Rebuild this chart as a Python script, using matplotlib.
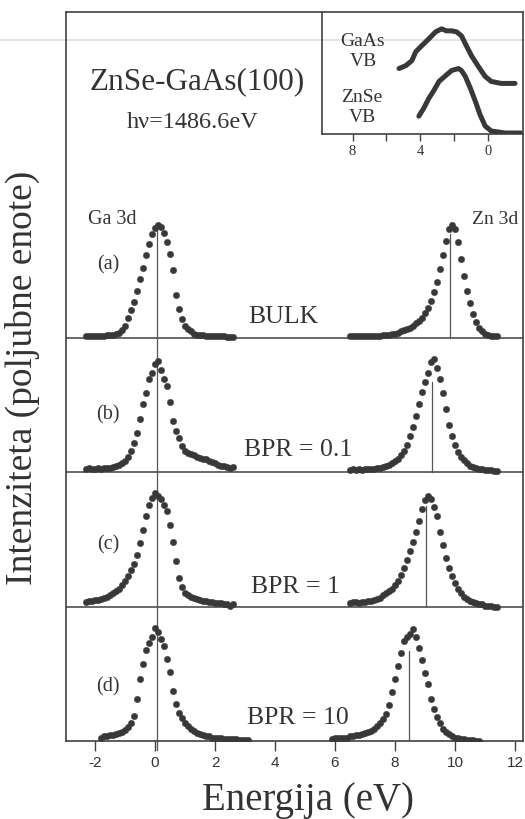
import matplotlib
matplotlib.use("Agg")
import matplotlib.pyplot as plt
from matplotlib.lines import Line2D

# ---------------- data ----------------
GA_E_ABC = [-2.3, -2.2, -2.1, -2.0, -1.9, -1.8, -1.7, -1.6, -1.5, -1.4,
            -1.3, -1.2, -1.1, -1.0, -0.9, -0.8, -0.7, -0.6, -0.5, -0.4,
            -0.3, -0.2, -0.1, 0.0, 0.1, 0.2, 0.3, 0.4, 0.5, 0.6,
            0.7, 0.8, 0.9, 1.0, 1.1, 1.2, 1.3, 1.4, 1.5, 1.6,
            1.7, 1.8, 1.9, 2.0, 2.1, 2.2, 2.3, 2.4, 2.5, 2.6]
GA_E_D = [-1.8, -1.7, -1.6, -1.5, -1.4, -1.3, -1.2, -1.1, -1.0, -0.9,
          -0.8, -0.7, -0.6, -0.5, -0.4, -0.3, -0.2, -0.1, 0.0, 0.1,
          0.2, 0.3, 0.4, 0.5, 0.6, 0.7, 0.8, 0.9, 1.0, 1.1,
          1.2, 1.3, 1.4, 1.5, 1.6, 1.7, 1.8, 1.9, 2.0, 2.1,
          2.2, 2.3, 2.4, 2.5, 2.6, 2.7, 2.8, 2.9, 3.0, 3.1]
ZN_E_ABC = [6.5, 6.6, 6.7, 6.8, 6.9, 7.0, 7.1, 7.2, 7.3, 7.4,
            7.5, 7.6, 7.7, 7.8, 7.9, 8.0, 8.1, 8.2, 8.3, 8.4,
            8.5, 8.6, 8.7, 8.8, 8.9, 9.0, 9.1, 9.2, 9.3, 9.4,
            9.5, 9.6, 9.7, 9.8, 9.9, 10.0, 10.1, 10.2, 10.3, 10.4,
            10.5, 10.6, 10.7, 10.8, 10.9, 11.0, 11.1, 11.2, 11.3, 11.4]
ZN_E_D = [5.9, 6.0, 6.1, 6.2, 6.3, 6.4, 6.5, 6.6, 6.7, 6.8,
          6.9, 7.0, 7.1, 7.2, 7.3, 7.4, 7.5, 7.6, 7.7, 7.8,
          7.9, 8.0, 8.1, 8.2, 8.3, 8.4, 8.5, 8.6, 8.7, 8.8,
          8.9, 9.0, 9.1, 9.2, 9.3, 9.4, 9.5, 9.6, 9.7, 9.8,
          9.9, 10.0, 10.1, 10.2, 10.3, 10.4, 10.5, 10.6, 10.7, 10.8]

GA_A = [2, 2, 2, 2, 2, 2, 2, 3, 3, 3,
        4, 5, 7, 11, 18, 25, 32, 42, 52, 62,
        73, 83, 92, 97, 100, 98, 93, 85, 74, 60,
        38, 26, 17, 11, 8, 6, 4, 3, 3, 3,
        2, 2, 2, 2, 2, 2, 2, 1, 1, 1]
ZN_A = [2, 2, 2, 2, 2, 2, 2, 2, 2, 2,
        2, 3, 3, 3, 4, 4, 5, 6, 7, 8,
        9, 11, 13, 15, 18, 22, 27, 33, 41, 50,
        61, 73, 86, 96, 100, 96, 85, 70, 55, 42,
        31, 21, 14, 9, 6, 4, 3, 2, 2, 2]
GA_B = [3, 4, 3, 3, 4, 3, 4, 4, 4, 5,
        6, 7, 8, 10, 14, 19, 26, 35, 47, 60,
        70, 82, 88, 96, 98, 90, 82, 76, 62, 45,
        37, 30, 23, 19, 17, 16, 15, 14, 13, 12,
        12, 10, 9, 8, 7, 6, 6, 5, 4, 5]
ZN_B = [2, 3, 2, 3, 2, 3, 3, 3, 3, 4,
        4, 5, 6, 7, 8, 10, 12, 15, 19, 24,
        32, 40, 50, 60, 71, 80, 88, 97, 100, 92,
        82, 70, 56, 42, 32, 24, 18, 14, 11, 8,
        6, 5, 4, 3, 3, 2, 2, 2, 1, 1]
GA_C = [4, 5, 5, 6, 6, 7, 8, 9, 10, 12,
        14, 16, 19, 23, 27, 32, 38, 46, 56, 68,
        80, 90, 96, 100, 98, 95, 90, 84, 72, 57,
        40, 25, 17, 12, 10, 9, 8, 7, 6, 5,
        5, 4, 4, 3, 3, 3, 2, 2, 1, 2]
ZN_C = [3, 4, 4, 3, 4, 4, 5, 5, 6, 7,
        8, 10, 12, 14, 16, 19, 23, 28, 34, 41,
        49, 57, 66, 76, 86, 94, 98, 95, 88, 80,
        66, 54, 43, 34, 27, 21, 16, 12, 9, 7,
        5, 4, 3, 2, 2, 1, 1, 1, 0, 0]
GA_D = [3, 4, 4, 5, 5, 6, 7, 8, 10, 12,
        16, 22, 37, 55, 68, 80, 86, 92, 100, 96,
        90, 84, 72, 61, 44, 33, 25, 20, 16, 13,
        11, 9, 7, 6, 5, 4, 4, 3, 3, 3,
        3, 2, 2, 2, 2, 2, 1, 1, 1, 1]
ZN_D = [2, 3, 3, 3, 3, 3, 4, 4, 5, 5,
        6, 7, 8, 9, 11, 13, 16, 19, 24, 32,
        43, 55, 66, 78, 88, 92, 94, 99, 92, 82,
        71, 60, 50, 37, 28, 21, 16, 11, 8, 6,
        4, 3, 3, 2, 2, 1, 1, 1, 0, 0]

PANEL_LABELS = ["(a)", "(b)", "(c)", "(d)"]
PANEL_TITLES = ["BULK", "BPR = 0.1", "BPR = 1", "BPR = 10"]
ZN_PEAK_POS = [9.83, 9.23, 9.03, 8.47]
ZN_LINE_TOP = [92, 80, 89, 79]
GA_PEAK_POS = 0.07

GAAS_VB_E = [5.26, 4.85, 4.5, 4.27, 3.92, 3.5, 3.1, 2.75, 2.46, 2.16,
             1.87, 1.58, 1.29, 0.99, 0.58, 0.18, -0.18, -0.76, -1.58]
GAAS_VB_I = [65, 68, 73, 82, 88, 95, 102, 105, 103, 103,
             102, 98, 88, 78, 67, 57, 52, 50, 50]
ZNSE_VB_E = [4.09, 3.8, 3.5, 3.2, 2.9, 2.5, 2.16, 1.75, 1.58, 1.35,
             1.05, 0.76, 0.47, 0.18, -0.18, -1.0, -1.93]
ZNSE_VB_I = [17, 25, 35, 43, 52, 58, 63, 65, 63, 57,
             45, 32, 18, 7, 2, 0, 0]

X_TICKS = [-2, 0, 2, 4, 6, 8, 10, 12]
INSET_TICKS = [8, 4, 0]
INSET_MINOR = [6, 2]

# ---------------- style ----------------
SERIF = ["Liberation Serif", "DejaVu Serif"]
SANS = ["Liberation Sans", "DejaVu Sans"]
DOT = "#383838"
LINE = "#404040"
TXT = "#333333"

W, H = 525, 820
fig = plt.figure(figsize=(W / 100, H / 100), dpi=100)
fig.patch.set_facecolor("white")

def fx(px):
    return px / W

def fy(py):
    return 1 - py / H

ax = fig.add_axes([fx(66), fy(742), fx(523 - 66), (742 - 13) / H])
ax.set_xlim(-2.97, 12.27)
ax.set_ylim(0, 5.43)
for s in ax.spines.values():
    s.set_color(LINE)
    s.set_linewidth(1.2)

SCALE = 0.845 / 100.0
ga_sets = [(GA_E_ABC, GA_A), (GA_E_ABC, GA_B), (GA_E_ABC, GA_C), (GA_E_D, GA_D)]
zn_sets = [(ZN_E_ABC, ZN_A), (ZN_E_ABC, ZN_B), (ZN_E_ABC, ZN_C), (ZN_E_D, ZN_D)]
bases = [3, 2, 1, 0]

for i, base in enumerate(bases):
    ge, gi = ga_sets[i]
    ze, zi = zn_sets[i]
    ax.plot(ge, [base + v * SCALE for v in gi], "o", ms=4.6, color=DOT,
            mec=DOT, mew=0.3, zorder=3)
    ax.plot(ze, [base + v * SCALE for v in zi], "o", ms=4.6, color=DOT,
            mec=DOT, mew=0.3, zorder=3)
    if base > 0:
        ax.axhline(base, color=LINE, lw=1.1, zorder=2)
    ax.plot([ZN_PEAK_POS[i], ZN_PEAK_POS[i]],
            [base, base + ZN_LINE_TOP[i] * SCALE], color="#555555", lw=0.9, zorder=2)

# Ga 3d reference line through all panels
ax.plot([GA_PEAK_POS, GA_PEAK_POS], [-0.07, 3 + 100 * SCALE], color="#555555",
        lw=0.9, zorder=2, clip_on=False)

ax.set_xticks(X_TICKS)
ax.set_xticklabels([str(t) for t in X_TICKS], family=SANS, fontsize=11, color=TXT)
ax.tick_params(axis="x", direction="out", length=7, width=1.0, color=LINE, pad=3)
ax.set_yticks([])

# panel texts
label_y = [265, 415, 545, 687]
title_y = [317, 450, 587, 718]
title_x = [283, 298, 295, 298]
for i in range(4):
    fig.text(fx(108), fy(label_y[i]), PANEL_LABELS[i], family=SERIF, fontsize=14.5,
             ha="center", va="center", color=TXT)
    fig.text(fx(title_x[i]), fy(title_y[i]), PANEL_TITLES[i], family=SERIF,
             fontsize=18.5, ha="center", va="center", color=TXT)

fig.text(fx(112), fy(220), "Ga 3d", family=SERIF, fontsize=14.5, ha="center",
         va="center", color=TXT)
fig.text(fx(495), fy(220), "Zn 3d", family=SERIF, fontsize=14, ha="center",
         va="center", color=TXT)
fig.text(fx(197), fy(82), "ZnSe-GaAs(100)", family=SERIF, fontsize=22.5,
         ha="center", va="center", color=TXT)
fig.text(fx(193), fy(123), "h\u03bd=1486.6eV", family=SERIF, fontsize=17.5,
         ha="center", va="center", color=TXT)

fig.text(fx(22), fy(378), "Intenziteta (poljubne enote)", family=SERIF,
         fontsize=27, rotation=90, ha="center", va="center", color=TXT)
fig.text(fx(308), fy(810), "Energija (eV)", family=SERIF, fontsize=28,
         ha="center", va="baseline", color=TXT)

# ---------------- inset ----------------
ins = fig.add_axes([fx(322), fy(135), fx(523 - 322), (135 - 13) / H])
ins.set_xlim(9.8, -2.05)
ins.set_ylim(-1, 122)
ins.patch.set_alpha(0)
ins.spines["top"].set_visible(False)
ins.spines["right"].set_visible(False)
for s in ["left", "bottom"]:
    ins.spines[s].set_color(LINE)
    ins.spines[s].set_linewidth(1.2)
ins.plot(GAAS_VB_E, GAAS_VB_I, "-", color=DOT, lw=3.6, solid_capstyle="round",
         solid_joinstyle="round")
ins.plot(ZNSE_VB_E, ZNSE_VB_I, "-", color=DOT, lw=3.6, solid_capstyle="round",
         solid_joinstyle="round")
ins.set_xticks(INSET_TICKS)
ins.set_xticklabels([str(t) for t in INSET_TICKS], family=SERIF, fontsize=10.5,
                    color=TXT)
ins.set_xticks(INSET_MINOR, minor=True)
ins.tick_params(axis="x", which="both", direction="out", length=5, width=1.0,
                color=LINE, pad=2)
ins.set_yticks([])

for txt, x, y in [("GaAs", 363, 41), ("VB", 363, 62), ("ZnSe", 362, 97), ("VB", 362, 118)]:
    fig.text(fx(x), fy(y), txt, family=SERIF, fontsize=14, ha="center",
             va="center", color=TXT)

# faint scan line across the top
fig.add_artist(Line2D([0, fx(525)], [fy(41), fy(41)], color="#cfcfcf", lw=1.3,
                      alpha=0.6, transform=fig.transFigure, zorder=0.5))
ax.set_zorder(1)
ax.patch.set_alpha(0)
ins.set_zorder(2)

fig.savefig("out.png", dpi=100)
